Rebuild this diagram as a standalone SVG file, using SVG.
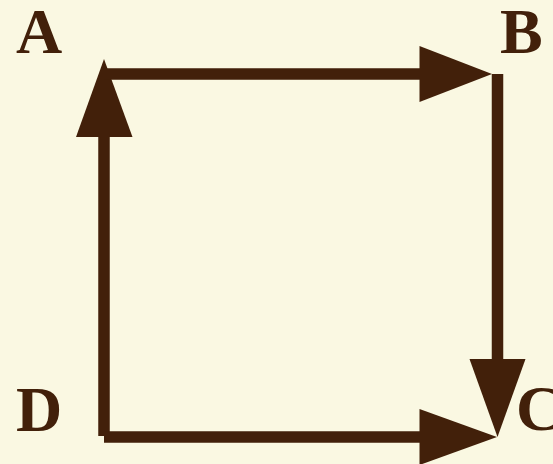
<svg xmlns="http://www.w3.org/2000/svg" width="553" height="464" viewBox="0 0 553 464">
<style>
.lbl{font-family:"Liberation Serif","Times New Roman",serif;font-weight:bold;font-size:64px;fill:#42200A}
.ln{stroke:#42200A;stroke-width:11.5;fill:none;stroke-linecap:butt}
.hd{fill:#42200A}
</style>
<rect width="553" height="464" fill="#FAF8E2"/>
<g id="connectors">
<g id="edge-D-A"><path class="ln" d="M104 436 V135"/><polygon class="hd" points="104,59 76,137 132.5,137"/></g>
<g id="edge-A-B"><path class="ln" d="M104 74 H421"/><polygon class="hd" points="492,74 419.5,46 419.5,102"/></g>
<g id="edge-B-C"><path class="ln" d="M497.5 74 V361"/><polygon class="hd" points="497.5,437 469.5,359 525.5,359"/></g>
<g id="edge-D-C"><path class="ln" d="M104 437 H421"/><polygon class="hd" points="497,437 419.5,409 419.5,465"/></g>
</g>
<g id="A"><text class="lbl" x="16" y="52.5">A</text></g>
<g id="B"><text class="lbl" x="500" y="52.5">B</text></g>
<g id="C"><text class="lbl" x="516" y="429.5">C</text></g>
<g id="D"><text class="lbl" x="16" y="430.5">D</text></g>
</svg>
